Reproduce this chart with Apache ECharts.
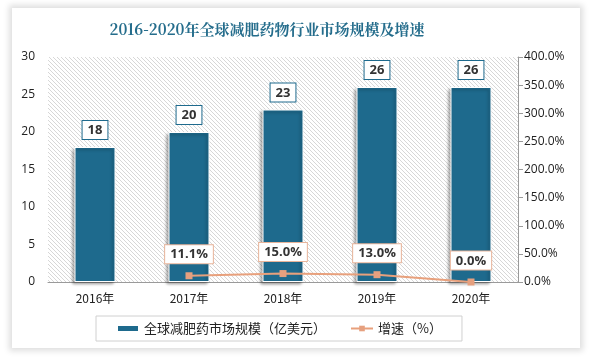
<!DOCTYPE html>
<html><head><meta charset="utf-8">
<script src="https://cdn.jsdelivr.net/npm/echarts@6/dist/echarts.min.js"></script>
<style>
html,body{margin:0;padding:0;background:#fff;}
#wrap{position:absolute;left:0;top:0;width:592px;height:357px;background:#fff;}
#card{position:absolute;left:12px;top:8px;width:568px;height:340px;background:#fff;box-shadow:0 0 6px 3px rgba(0,0,0,0.13);}
#chart{position:absolute;left:0;top:0;width:592px;height:357px;}
</style></head>
<body><div id="wrap"><div id="card"></div><div id="chart"></div></div>
<script>
var categories = ['2016年','2017年','2018年','2019年','2020年'];
var marketSize = [18, 20, 23, 26, 26];
var growthRate = [null, 11.1, 15.0, 13.0, 0.0];
var leftTicks = [0, 5, 10, 15, 20, 25, 30];
var rightTicks = [0, 50, 100, 150, 200, 250, 300, 350, 400];
var titleText = '2016-2020年全球减肥药物行业市场规模及增速';
var seriesNames = ['全球减肥药市场规模（亿美元）', '增速（%）'];

function hatch(){
  var s = 4;
  var c = document.createElement('canvas');
  c.width = s; c.height = s;
  var g = c.getContext('2d');
  g.fillStyle = '#ffffff'; g.fillRect(0,0,s,s);
  g.strokeStyle = '#d2d2d2'; g.lineWidth = 0.9;
  g.beginPath();
  g.moveTo(0,0); g.lineTo(s,s);
  g.moveTo(-s,0); g.lineTo(s,2*s);
  g.moveTo(0,-s); g.lineTo(2*s,s);
  g.stroke();
  return c;
}

var chart = echarts.init(document.getElementById('chart'), null, {renderer:'canvas'});
chart.setOption({
  animation:false,
  backgroundColor:'transparent',
  title:{text:titleText,left:262,top:17,textAlign:'center',
    textStyle:{fontFamily:'"Noto Serif CJK SC","Noto Sans CJK SC",serif',fontSize:15,fontWeight:'bold',color:'#256d8c'}},
  grid:{left:48,right:74,top:57,bottom:75,show:true,borderWidth:0,
    backgroundColor:{image:hatch(),repeat:'repeat'}},
  legend:{left:96,top:316,width:332,height:27,itemGap:24,padding:[6,20,6,20],
    borderColor:'#d0d0d0',borderWidth:1,backgroundColor:'#fff',
    textStyle:{fontFamily:'"Noto Sans CJK SC",sans-serif',fontSize:13,color:'#222'},
    data:[{name:seriesNames[0],icon:'rect',itemStyle:{color:'#1e6a8d'}},{name:seriesNames[1]}],
    itemWidth:22,itemHeight:7},
  xAxis:{type:'category',data:categories,
    axisLine:{lineStyle:{color:'#9a9a9a'}},axisTick:{show:false},
    axisLabel:{color:'#222',fontSize:12,margin:10,fontFamily:'"Noto Sans CJK SC",sans-serif'}},
  yAxis:[
    {type:'value',min:leftTicks[0],max:leftTicks[leftTicks.length-1],interval:5,
      axisLine:{show:false},axisTick:{show:false},splitLine:{show:false},
      axisLabel:{color:'#222',fontSize:12,margin:13,fontFamily:'"Open Sans",sans-serif'}},
    {type:'value',min:rightTicks[0],max:rightTicks[rightTicks.length-1],interval:50,position:'right',
      axisLine:{show:true,lineStyle:{color:'#9a9a9a'}},axisTick:{show:true,length:5,lineStyle:{color:'#9a9a9a'}},splitLine:{show:false},
      axisLabel:{color:'#222',fontSize:12,margin:6,fontFamily:'"Open Sans",sans-serif',formatter:function(v){return v.toFixed(1)+'%';}}}
  ],
  series:[
    {name:seriesNames[0],type:'bar',data:marketSize,barWidth:41,yAxisIndex:0,
      itemStyle:{color:'#1e6a8d',borderColor:'#ffffff',borderWidth:1,shadowColor:'rgba(0,0,0,0.35)',shadowBlur:3,shadowOffsetX:-2,shadowOffsetY:2},
      label:{show:true,position:'top',distance:8,color:'#333',fontWeight:'bold',fontSize:13,fontFamily:'"Open Sans",sans-serif',
        backgroundColor:'#fff',borderColor:'#1e6a8d',borderWidth:1,padding:[3,5,2,5]}},
    {name:seriesNames[1],type:'line',data:growthRate,yAxisIndex:1,symbol:'rect',symbolSize:7,
      lineStyle:{color:'#e8a07c',width:2},itemStyle:{color:'#e6a07f'},
      label:{show:true,position:'top',distance:9,color:'#333',fontWeight:'bold',fontSize:13,fontFamily:'"Open Sans",sans-serif',
        backgroundColor:'#fff',borderColor:'#e8b49a',borderWidth:1,padding:[3,5,2,5],
        formatter:function(p){return p.value==null?'':p.value.toFixed(1)+'%';}}}
  ]
});
</script></body></html>
